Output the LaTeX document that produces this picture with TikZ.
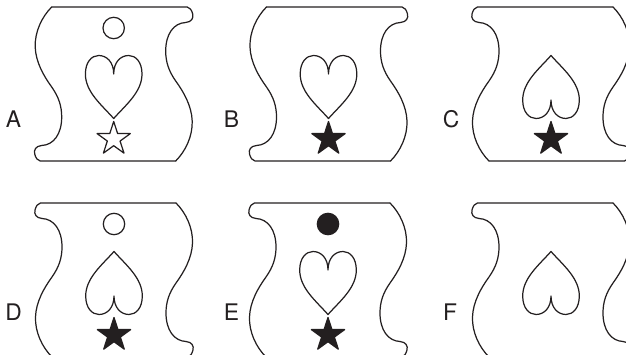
\documentclass[tikz,border=0pt]{standalone}
\usepackage{fontspec}
\setsansfont{TeX Gyre Heros}
\usetikzlibrary{calc}
\definecolor{cardink}{HTML}{231F20}
\tikzset{
  every picture/.style={font=\sffamily},
  outline/.style={draw=cardink,line width=0.7pt,line join=round,line cap=round},
  solidmark/.style={outline,fill=cardink},
  hollowmark/.style={outline,fill=white},
  panel label/.style={font=\sffamily\fontsize{13}{15}\selectfont,text=cardink,inner sep=0pt},
  % one half of the card edge; the other half is the same turned by 180
  scroll/.pic={
    \foreach \turn in {0,180}
      \draw[outline,rotate=\turn] (-62,77)
        .. controls (-72,67) and (-79,52) .. (-78.5,37)
        .. controls (-78,22) and (-70,8) .. (-62,-3)
        .. controls (-55,-13) and (-52,-22) .. (-52,-33)
        .. controls (-52,-50) and (-60,-61) .. (-72,-61.5)
        .. controls (-78,-62) and (-80,-66) .. (-79,-70)
        .. controls (-78,-74) and (-76,-76.7) .. (-73.5,-77)
        -- (62,-77);
  },
  heart/.pic={
    \path[pic actions] (0,-31.5)
      .. controls (-12,-18) and (-28.3,-5) .. (-28.3,13)
      .. controls (-28.3,25) and (-22,31.5) .. (-15,31.5)
      .. controls (-7,31.5) and (0,25) .. (0,13)
      .. controls (0,25) and (7,31.5) .. (15,31.5)
      .. controls (22,31.5) and (28.3,25) .. (28.3,13)
      .. controls (28.3,-5) and (12,-18) .. (0,-31.5) -- cycle;
  },
  starmark/.pic={
    \path[pic actions] (90:17.5)
      \foreach \k in {1,...,4} { -- ({72*\k+54}:6.7) -- ({72*\k+90}:17.5) }
      -- (54:6.7) -- cycle;
  },
}
\begin{document}
\begin{tikzpicture}[x=0.02cm,y=0.02cm]
  \useasboundingbox (0,0) rectangle (626,355);
  \clip (0,0) rectangle (626,355);
  % card centres, top row then bottom row
  \coordinate (pA) at (113.7,271);
  \coordinate (pB) at (328.5,271);
  \coordinate (pC) at (551,271);
  \coordinate (pD) at (114,75);
  \coordinate (pE) at (328,75);
  \coordinate (pF) at (551,75);
  \pic at (pA) {scroll};
  \pic at (pB) {scroll};
  \foreach \p in {C,D,E,F}
    \pic[xscale=-1] at (p\p) {scroll};
  % hearts point down in A, B, E and up in C, D, F
  \foreach \p in {A,B,E}
    \pic[outline] at ($(p\p)+(0,-3)$) {heart};
  \foreach \p in {C,D,F}
    \pic[outline,rotate=180] at ($(p\p)+(0,-3)$) {heart};
  \pic[hollowmark] at ($(pA)+(0,-55)$) {starmark};
  \foreach \p in {B,C,D,E}
    \pic[solidmark] at ($(p\p)+(0,-55)$) {starmark};
  \draw[hollowmark] ($(pA)+(0,56)$) circle[radius=10.7];
  \draw[hollowmark] ($(pD)+(0,56)$) circle[radius=10.7];
  \draw[solidmark] ($(pE)+(0,56)$) circle[radius=10.7];
  \foreach \p/\lx/\ly in {A/13.5/236,B/231.5/236,C/451/236,D/13.5/42.5,E/231.5/42.5,F/450/42.5}
    \node[panel label] (lab\p) at (\lx,\ly) {\p};
\end{tikzpicture}
\end{document}
